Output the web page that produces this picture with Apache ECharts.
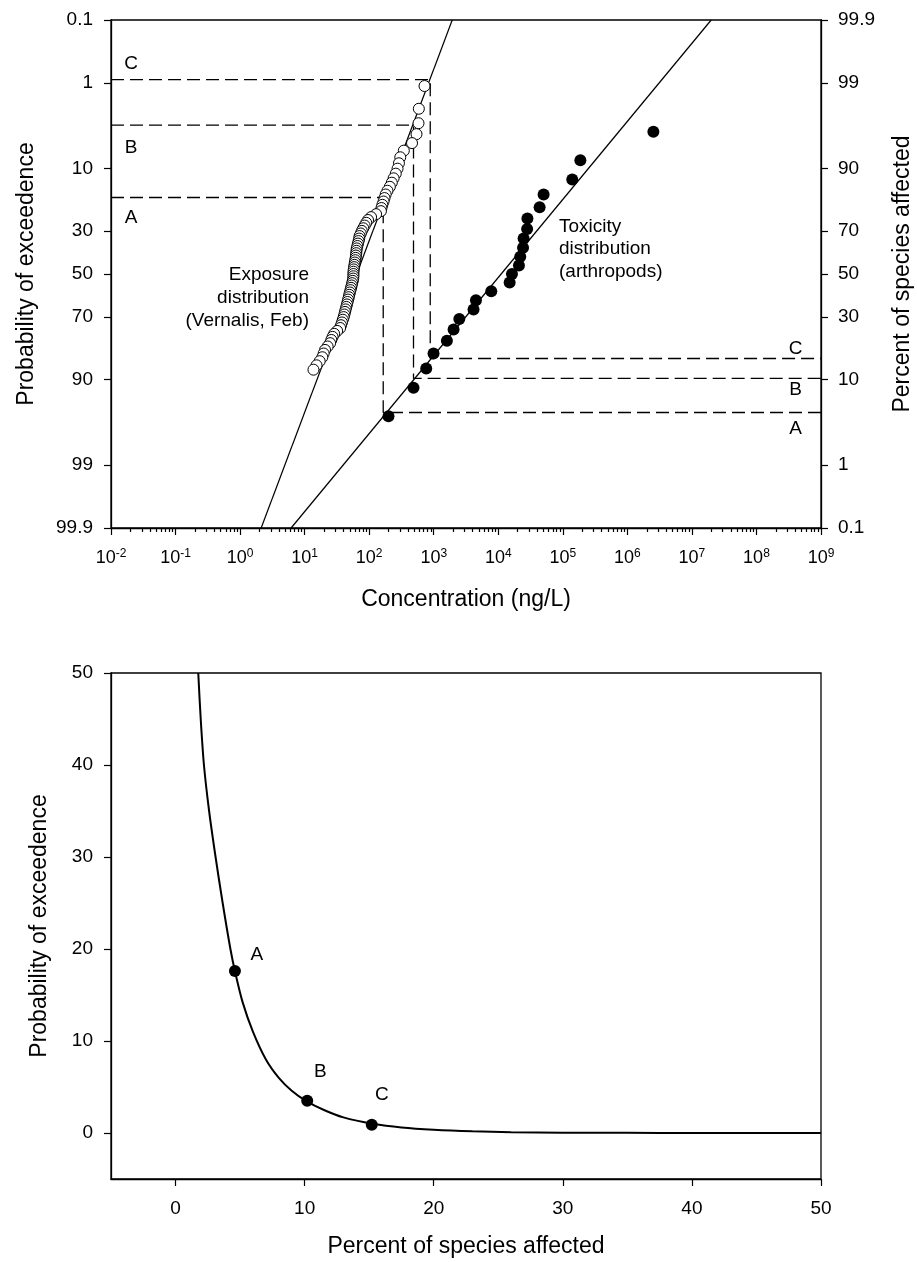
<!DOCTYPE html>
<html><head><meta charset="utf-8">
<script src="https://cdn.jsdelivr.net/npm/echarts@6/dist/echarts.min.js"></script>
<style>html,body{margin:0;padding:0;background:#fff}#c{width:917px;height:1262px}</style>
</head><body><div id="c"></div>
<script>
// ---------------- data ----------------
const probTickLabels = [0.1, 1, 10, 30, 50, 70, 90, 99, 99.9];
const concTickExponents = [-2, -1, 0, 1, 2, 3, 4, 5, 6, 7, 8, 9];

// Exposure distribution (Vernalis, Feb): concentration (ng/L) and probability of exceedence (%)
const exposureConc = [720, 588, 581, 541, 461, 344, 303, 289, 275, 258,
  239, 224, 209, 192, 180, 173, 167, 160, 155, 152,
  128, 107, 96, 90, 85, 81, 77, 74, 71, 70,
  68.5, 67, 65.6, 64.2, 63.5, 63.1, 62.4, 61.8, 60.9, 60,
  59.2, 58.5, 57.7, 57.1, 57, 57, 56.6, 55.7, 54.5, 53.5,
  52.4, 51.3, 50.2, 49.1, 48.3, 47.2, 46.2, 45.3, 44.2, 43.2,
  42.2, 41.3, 40.3, 39, 37.9, 36.6, 35.5, 31.9, 28.7, 27.1,
  25.9, 24.8, 22.7, 20.7, 19.7, 18.8, 17.1, 15.3, 13.7];
const exposureExceed = [1.11, 2.22, 3.33, 4.44, 5.56, 6.67, 7.78, 8.89, 10, 11.11,
  12.22, 13.33, 14.44, 15.56, 16.67, 17.78, 18.89, 20, 21.11, 22.22,
  23.33, 24.44, 25.56, 26.67, 27.78, 28.89, 30, 31.11, 32.22, 33.33,
  34.44, 35.56, 36.67, 37.78, 38.89, 40, 41.11, 42.22, 43.33, 44.44,
  45.56, 46.67, 47.78, 48.89, 50, 51.11, 52.22, 53.33, 54.44, 55.56,
  56.67, 57.78, 58.89, 60, 61.11, 62.22, 63.33, 64.44, 65.56, 66.67,
  67.78, 68.89, 70, 71.11, 72.22, 73.33, 74.44, 75.56, 76.67, 77.78,
  78.89, 80, 81.11, 82.22, 83.33, 84.44, 85.56, 86.67, 87.78];

// Toxicity distribution (arthropods): concentration (ng/L) and percent of species affected
const toxicityConc = [199, 486, 765, 993, 1600, 2030, 2490, 4140, 4510, 7790,
  15000, 16300, 20900, 21900, 24200, 24700, 28000, 28300, 43700, 50400,
  140000, 187000, 2530000];
const toxicityAffected = [4.17, 8.33, 12.5, 16.67, 20.83, 25, 29.17, 33.33, 37.5, 41.67,
  45.83, 50, 54.17, 58.33, 62.5, 66.67, 70.83, 75, 79.17, 83.33,
  87.5, 91.67, 95.83];

// Fitted lines (end points on the frame)
const exposureFitConc = [2.12, 1936];
const exposureFitExceed = [99.9, 0.1];
const toxicityFitConc = [6.17, 1.99e7];
const toxicityFitAffected = [0.1, 99.9];

// Reference points A, B, C
const refNames = ['A', 'B', 'C'];
const refConc = [165, 486, 883];
const refExceed = [17.6, 3.5, 0.9];
const refAffected = [4.6, 10.2, 15.2];

// Joint probability curve (lower panel)
const jointAffected = [1.76, 1.95, 2.2, 2.6, 3.1, 3.65, 4.25, 4.6, 5.2, 6.0, 7.0, 8.0, 9.0, 10.1, 11.5, 13.0, 15.3, 17.5, 20, 23, 26, 30, 35, 40, 50];
const jointExceed = [50, 45, 40, 35, 30, 25, 20, 17.6, 14.2, 11.0, 8.0, 6.0, 4.6, 3.5, 2.5, 1.7, 1.0, 0.6, 0.35, 0.18, 0.09, 0.04, 0.015, 0.005, 0];
const jointTicks = [0, 10, 20, 30, 40, 50];
const jointRange = [-5, 50];

// ---------------- probability scale helper ----------------
function probit(p) {
  const a = [-3.969683028665376e+01, 2.209460984245205e+02, -2.759285104469687e+02, 1.383577518672690e+02, -3.066479806614716e+01, 2.506628277459239e+00];
  const b = [-5.447609879822406e+01, 1.615858368580409e+02, -1.556989798598866e+02, 6.680131188771972e+01, -1.328068155288572e+01];
  const c = [-7.784894002430293e-03, -3.223964580411365e-01, -2.400758277161838e+00, -2.549732539343734e+00, 4.374664141464968e+00, 2.938163982698783e+00];
  const d = [7.784695709041462e-03, 3.224671290700398e-01, 2.445134137142996e+00, 3.754408661907416e+00];
  const pl = 0.02425, ph = 1 - pl;
  let q, r;
  if (p < pl) { q = Math.sqrt(-2 * Math.log(p)); return (((((c[0]*q+c[1])*q+c[2])*q+c[3])*q+c[4])*q+c[5]) / ((((d[0]*q+d[1])*q+d[2])*q+d[3])*q+1); }
  if (p > ph) { q = Math.sqrt(-2 * Math.log(1 - p)); return -(((((c[0]*q+c[1])*q+c[2])*q+c[3])*q+c[4])*q+c[5]) / ((((d[0]*q+d[1])*q+d[2])*q+d[3])*q+1); }
  q = p - 0.5; r = q * q;
  return (((((a[0]*r+a[1])*r+a[2])*r+a[3])*r+a[4])*r+a[5])*q / (((((b[0]*r+b[1])*r+b[2])*r+b[3])*r+b[4])*r+1);
}
const zp = pct => probit(pct / 100);

const FONT = '"Liberation Sans", Arial, Helvetica, sans-serif';
const BLACK = '#000';
const zTicks = probTickLabels.map(zp);
const zMin = zp(probTickLabels[0]), zMax = zp(probTickLabels[probTickLabels.length - 1]);
const xMin = Math.pow(10, concTickExponents[0]);
const xMax = Math.pow(10, concTickExponents[concTickExponents.length - 1]);
const majorConcTicks = concTickExponents.map(e => Math.pow(10, e));
const minorConcTicks = [];
for (let e = concTickExponents[0]; e < concTickExponents[concTickExponents.length - 1]; e++) {
  for (let k = 2; k <= 9; k++) minorConcTicks.push(+(k * Math.pow(10, e)).toPrecision(6));
}
function probLabel(v, right) {
  let best = 0, bd = Infinity;
  zTicks.forEach((t, i) => { const dd = Math.abs(t - v); if (dd < bd) { bd = dd; best = i; } });
  const p = probTickLabels[best];
  return String(right ? +(100 - p).toFixed(1) : p);
}

const lineStyleAxis = { color: BLACK, width: 1.3 };
const tickStyle = { color: BLACK, width: 1.2 };
const labelBase = { color: BLACK, fontFamily: FONT, fontSize: 19 };
const nameStyle = { color: BLACK, fontFamily: FONT, fontSize: 23 };

const chart = echarts.init(document.getElementById('c'), null, { renderer: 'canvas' });

const refLine = i => ({
  type: 'line', xAxisIndex: 0, yAxisIndex: 0, symbol: 'none', z: 3, silent: true,
  lineStyle: { color: BLACK, width: 1.3, type: [13, 6] },
  data: [[xMin, zp(refExceed[i])], [refConc[i], zp(refExceed[i])],
         [refConc[i], zp(100 - refAffected[i])], [xMax, zp(100 - refAffected[i])]]
});

const option = {
  animation: false,
  backgroundColor: '#fff',
  textStyle: { fontFamily: FONT, color: BLACK },
  grid: [
    { left: 111, top: 20, width: 710, height: 508, show: true, borderColor: BLACK, borderWidth: 1.3, backgroundColor: 'transparent', containLabel: false, outerBoundsMode: 'none' },
    { left: 111, top: 673, width: 710, height: 506, show: true, borderColor: BLACK, borderWidth: 1.3, backgroundColor: 'transparent', containLabel: false, outerBoundsMode: 'none' }
  ],
  xAxis: [
    { gridIndex: 0, type: 'log', logBase: 10, min: xMin, max: xMax, position: 'bottom',
      name: 'Concentration (ng/L)', nameLocation: 'middle', nameGap: 60, nameTextStyle: nameStyle,
      axisLine: { show: true, onZero: false, lineStyle: lineStyleAxis },
      axisTick: { show: true, inside: false, length: 7, lineStyle: tickStyle, customValues: majorConcTicks },
      axisLabel: { show: true, margin: 20, customValues: majorConcTicks,
        formatter: v => '{b|10}{s|' + Math.round(Math.log10(v)) + '}',
        rich: { b: { fontSize: 18, fontFamily: FONT, color: BLACK }, s: { fontSize: 12, fontFamily: FONT, color: BLACK, padding: [0, 0, 9, 0] } } },
      splitLine: { show: false }, minorTick: { show: false }, minorSplitLine: { show: false } },
    { gridIndex: 0, type: 'log', logBase: 10, min: xMin, max: xMax, position: 'bottom',
      axisLine: { show: false, onZero: false },
      axisTick: { show: true, inside: false, length: 4, lineStyle: tickStyle, customValues: minorConcTicks },
      axisLabel: { show: false }, splitLine: { show: false } },
    { gridIndex: 1, type: 'value', min: jointRange[0], max: jointRange[1], position: 'bottom',
      name: 'Percent of species affected', nameLocation: 'middle', nameGap: 56, nameTextStyle: nameStyle,
      axisLine: { show: true, onZero: false, lineStyle: lineStyleAxis },
      axisTick: { show: true, inside: false, length: 7, lineStyle: tickStyle, customValues: jointTicks },
      axisLabel: Object.assign({ margin: 20, customValues: jointTicks }, labelBase),
      splitLine: { show: false } }
  ],
  yAxis: [
    { gridIndex: 0, type: 'value', min: zMin, max: zMax, inverse: true, position: 'left',
      name: 'Probability of exceedence', nameLocation: 'middle', nameRotate: 90, nameGap: 73, nameTextStyle: nameStyle,
      axisLine: { show: true, onZero: false, lineStyle: lineStyleAxis },
      axisTick: { show: true, inside: false, length: 7, lineStyle: tickStyle, customValues: zTicks },
      axisLabel: Object.assign({ margin: 18, customValues: zTicks, formatter: v => probLabel(v, false) }, labelBase),
      splitLine: { show: false } },
    { gridIndex: 0, type: 'value', min: zMin, max: zMax, inverse: true, position: 'right',
      name: 'Percent of species affected', nameLocation: 'middle', nameRotate: 90, nameGap: 70, nameTextStyle: nameStyle,
      axisLine: { show: true, onZero: false, lineStyle: lineStyleAxis },
      axisTick: { show: true, inside: false, length: 7, lineStyle: tickStyle, customValues: zTicks },
      axisLabel: Object.assign({ margin: 17, customValues: zTicks, formatter: v => probLabel(v, true) }, labelBase),
      splitLine: { show: false } },
    { gridIndex: 1, type: 'value', min: jointRange[0], max: jointRange[1], position: 'left',
      name: 'Probability of exceedence', nameLocation: 'middle', nameRotate: 90, nameGap: 60, nameTextStyle: nameStyle,
      axisLine: { show: true, onZero: false, lineStyle: lineStyleAxis },
      axisTick: { show: true, inside: false, length: 7, lineStyle: tickStyle, customValues: jointTicks },
      axisLabel: Object.assign({ margin: 18, customValues: jointTicks }, labelBase),
      splitLine: { show: false } }
  ],
  series: [
    { name: 'Exposure fit', type: 'line', xAxisIndex: 0, yAxisIndex: 0, symbol: 'none', z: 2, silent: true,
      lineStyle: { color: BLACK, width: 1.2 },
      data: exposureFitConc.map((c, i) => [c, zp(exposureFitExceed[i])]) },
    { name: 'Toxicity fit', type: 'line', xAxisIndex: 0, yAxisIndex: 0, symbol: 'none', z: 2, silent: true,
      lineStyle: { color: BLACK, width: 1.2 },
      data: toxicityFitConc.map((c, i) => [c, zp(100 - toxicityFitAffected[i])]) },
    refLine(0), refLine(1), refLine(2),
    { name: 'Toxicity', type: 'scatter', xAxisIndex: 0, yAxisIndex: 0, symbol: 'circle', symbolSize: 12, z: 5,
      itemStyle: { color: BLACK, opacity: 1 },
      data: toxicityConc.map((c, i) => [c, zp(100 - toxicityAffected[i])]) },
    { name: 'Exposure', type: 'scatter', xAxisIndex: 0, yAxisIndex: 0, symbol: 'circle', symbolSize: 11, z: 6,
      itemStyle: { color: '#fff', borderColor: BLACK, borderWidth: 1, opacity: 1 },
      data: exposureConc.map((c, i) => [c, zp(exposureExceed[i])]) },
    { name: 'Joint curve', type: 'line', xAxisIndex: 2, yAxisIndex: 2, symbol: 'none', smooth: 0.3, z: 3,
      lineStyle: { color: BLACK, width: 2 },
      data: jointAffected.map((a, i) => [a, jointExceed[i]]) },
    { name: 'Joint points', type: 'scatter', xAxisIndex: 2, yAxisIndex: 2, symbol: 'circle', symbolSize: 12, z: 5,
      itemStyle: { color: BLACK, opacity: 1 },
      data: refAffected.map((a, i) => [a, refExceed[i]]) }
  ]
};
chart.setOption(option);

// ---------------- annotations anchored to the axes ----------------
const P = (xi, yi, pt) => chart.convertToPixel({ xAxisIndex: xi, yAxisIndex: yi }, pt);
const gLeft = P(0, 0, [xMin, 0])[0];
const gRight = P(0, 0, [xMax, 0])[0];
function txt(s, x, y, align, vAlign, lineHeight) {
  return { type: 'text', x: x, y: y, silent: true, z: 20,
    style: { text: s, fill: BLACK, fontSize: 19, fontFamily: FONT, font: '19px ' + FONT,
      align: align, textAlign: align, verticalAlign: vAlign, textVerticalAlign: vAlign,
      lineHeight: lineHeight || 19 } };
}
const leftOff = { A: 20, B: 23, C: -16 };
const rightOff = { A: 16.5, B: 11.5, C: -9.5 };
const jointOff = { A: [22, -16], B: [13, -29], C: [10, -30] };
const graphics = [];
refNames.forEach((n, i) => {
  const yl = P(0, 0, [xMin, zp(refExceed[i])])[1];
  const yr = P(0, 0, [xMax, zp(100 - refAffected[i])])[1];
  graphics.push(txt(n, gLeft + 20, yl + leftOff[n], 'center', 'middle'));
  graphics.push(txt(n, gRight - 25.5, yr + rightOff[n], 'center', 'middle'));
  const pj = P(2, 2, [refAffected[i], refExceed[i]]);
  graphics.push(txt(n, pj[0] + jointOff[n][0], pj[1] + jointOff[n][1], 'center', 'middle'));
});
graphics.push(txt('Exposure\ndistribution\n(Vernalis, Feb)', 309, 263.5, 'right', 'top', 23));
graphics.push(txt('Toxicity\ndistribution\n(arthropods)', 559, 215.5, 'left', 'top', 22.5));
chart.setOption({ graphic: { elements: graphics } });
</script>
</body></html>
